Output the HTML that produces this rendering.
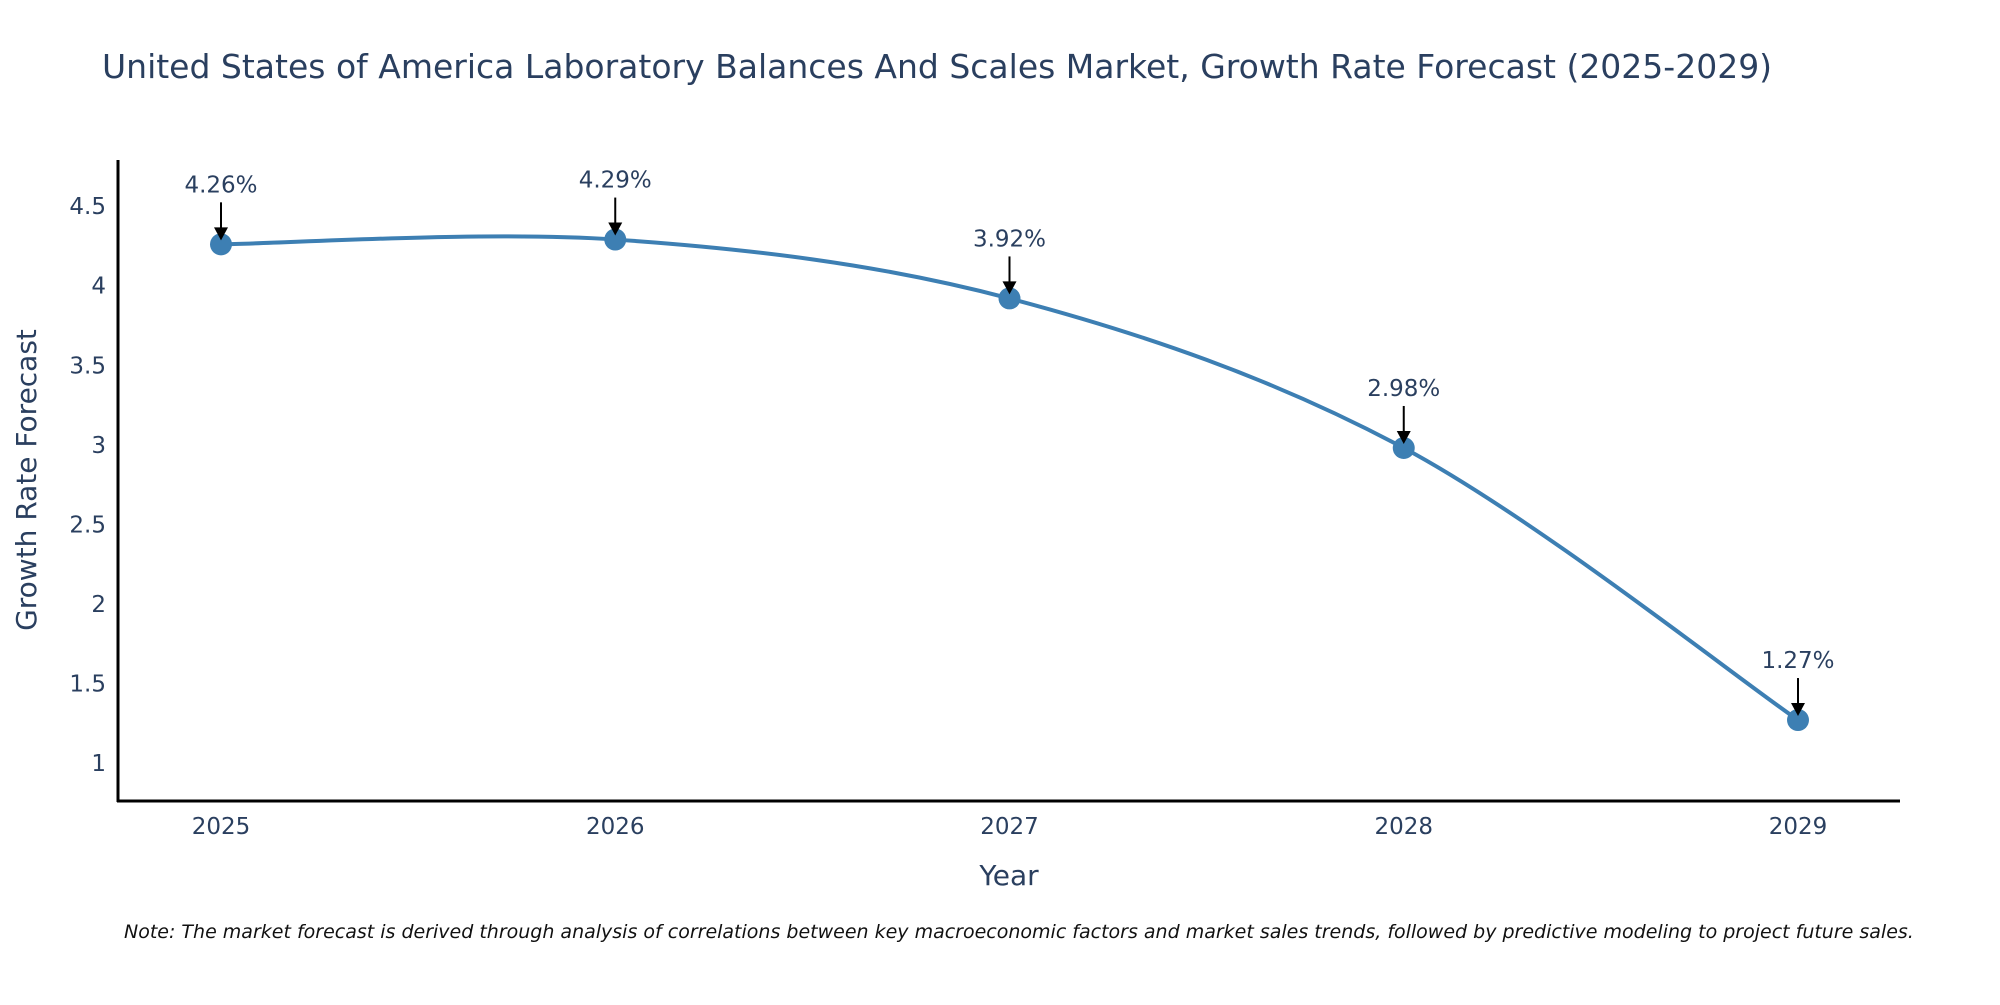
<!DOCTYPE html>
<html><head><meta charset="utf-8"><style>
body{margin:0;background:#fff;}
svg text{font-family:"DejaVu Sans","Liberation Sans",sans-serif;}
</style></head><body>
<svg id="chart" width="2000" height="1000" xmlns="http://www.w3.org/2000/svg">
<text x="102" y="78" font-size="33" fill="#2a3f5f">United States of America Laboratory Balances And Scales Market, Growth Rate Forecast (2025-2029)</text>
<g id="yticks"></g>
<g id="xticks"></g>
<path id="line" fill="none" stroke="#3d7fb3" stroke-width="4"/>
<g id="points"></g>
<g id="annos"></g>
<line x1="118" y1="160" x2="118" y2="802" stroke="#000" stroke-width="3"/>
<line x1="117" y1="801" x2="1900" y2="801" stroke="#000" stroke-width="3"/>
<text transform="translate(36,480) rotate(-90)" text-anchor="middle" font-size="28" fill="#2a3f5f">Growth Rate Forecast</text>
<text x="1009" y="885" text-anchor="middle" font-size="28" fill="#2a3f5f">Year</text>
<text x="124" y="938" font-size="19" font-style="italic" fill="#111">Note: The market forecast is derived through analysis of correlations between key macroeconomic factors and market sales trends, followed by predictive modeling to project future sales.</text>
</svg>
<script>
const years=[2025,2026,2027,2028,2029];
const values=[4.26,4.29,3.92,2.98,1.27];
const labels=["4.26%","4.29%","3.92%","2.98%","1.27%"];
const yTicks=[1,1.5,2,2.5,3,3.5,4,4.5];
const NS="http://www.w3.org/2000/svg";
const X=i=>221+(i)*394.25;
const Y=v=>763-(v-1)*159.1;
function mk(t,a,p){const e=document.createElementNS(NS,t);for(const k in a)e.setAttribute(k,a[k]);p.appendChild(e);return e;}
const yt=document.getElementById('yticks');
yTicks.forEach(v=>{const t=mk('text',{x:106,y:Y(v)+8,'text-anchor':'end','font-size':23,fill:'#2a3f5f'},yt);t.textContent=String(v);

});
const xt=document.getElementById('xticks');
years.forEach((y,i)=>{const t=mk('text',{x:X(i),y:834,'text-anchor':'middle','font-size':23,fill:'#2a3f5f'},xt);t.textContent=String(y);

});
const pts=values.map((v,i)=>[X(i),Y(v)]);
let d=`M${pts[0][0]},${pts[0][1]}`;
for(let i=0;i<pts.length-1;i++){const p0=pts[i-1]||pts[i],p1=pts[i],p2=pts[i+1],p3=pts[i+2]||p2;
const c1=[p1[0]+(p2[0]-p0[0])/6,p1[1]+(p2[1]-p0[1])/6],c2=[p2[0]-(p3[0]-p1[0])/6,p2[1]-(p3[1]-p1[1])/6];
d+=` C${c1[0]},${c1[1]} ${c2[0]},${c2[1]} ${p2[0]},${p2[1]}`;}
document.getElementById('line').setAttribute('d',d);
const pg=document.getElementById('points'),ag=document.getElementById('annos');
pts.forEach((p,i)=>{const c=mk('circle',{cx:p[0],cy:p[1],r:11,fill:'#3d7fb3'},pg);


mk('line',{x1:p[0],y1:p[1]-42,x2:p[0],y2:p[1]-16,stroke:'#000','stroke-width':2},ag);
mk('polygon',{points:`${p[0]-7},${p[1]-17} ${p[0]+7},${p[1]-17} ${p[0]},${p[1]-4}`,fill:'#000'},ag);
const t=mk('text',{x:p[0],y:p[1]-52,'text-anchor':'middle','font-size':23,fill:'#2a3f5f'},ag);t.textContent=labels[i];

});
</script>
</body></html>
